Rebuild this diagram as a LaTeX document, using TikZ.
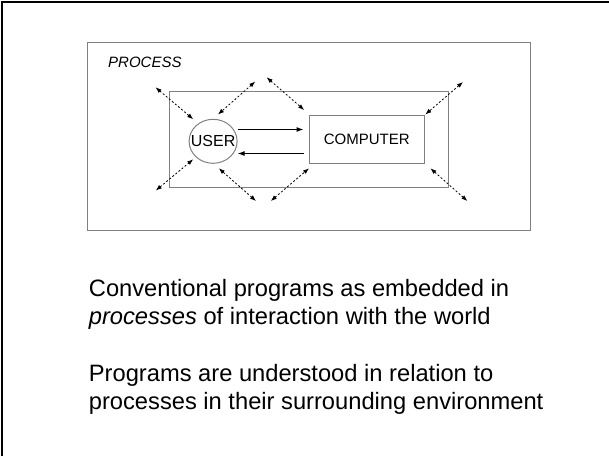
\documentclass[tikz,border=0pt]{standalone}
\usepackage{fontspec}
\setmainfont{Liberation Sans}
\usetikzlibrary{arrows.meta,shapes.geometric}

\begin{document}
\begin{tikzpicture}[x=0.5pt,y=-0.5pt,
    box/.style={draw=gray, line width=0.5pt, inner sep=0pt},
    arrow/.style={-{Latex[length=3.5pt,width=2.5pt]}, line width=0.5pt},
    dotarrow/.style={{Latex[length=3pt,width=2.2pt]}-{Latex[length=3pt,width=2.2pt]}, line width=0.4pt, dash pattern=on 1pt off 1pt},
    small/.style={font=\fontsize{7.5}{9}\selectfont},
    para/.style={anchor=north west, inner sep=0pt, align=left, font=\fontsize{11.85}{14}\selectfont}
  ]
  \useasboundingbox (0,0) rectangle (609,456);

  % slide frame
  \draw[line width=1pt] (1.7,456) -- (1.7,1.7) -- (609,1.7);

  % process box with the system inside
  \node[box, minimum width=221.5pt, minimum height=93.65pt] (process) at (308.8,136.35) {};
  \node[small, font=\fontsize{7.5}{9}\selectfont\itshape, anchor=west, inner sep=0pt] (proclabel) at (107.8,62) {PROCESS};
  \node[box, minimum width=139.7pt, minimum height=48pt] (system) at (309,139) {};

  % user and computer
  \node[box, ellipse, minimum width=24pt, minimum height=22pt,
        label={[font=\fontsize{8}{9}\selectfont]center:USER}] (user) at (213.1,141.3) {};
  \node[box, small, minimum width=57.75pt, minimum height=24.15pt] (computer) at (366.75,139.6) {COMPUTER};

  \draw[arrow, shorten >=2.5pt] ([yshift=5.9pt]user.east) -- ([yshift=5.9pt]user.east -| computer.west);
  \draw[arrow, shorten <=2.5pt] ([yshift=-6.1pt]user.east -| computer.west) -- ([yshift=-6.1pt]user.east);

  % interaction with the world
  \foreach \i/\ox/\oy/\ix/\iy in {1/155.5/87.3/193.2/119.2, 2/255.3/81.5/218/114.5,
      3/266.6/77.3/304.2/110, 4/463/82/425.3/114.5, 5/155.8/190.5/193.2/159.3,
      6/256/201/218.8/168.3, 7/270.8/201/309/168.3, 8/467.4/201/430.4/168.3} {
    \coordinate (out\i) at (\ox,\oy);
    \coordinate (in\i) at (\ix,\iy);
    \draw[dotarrow] (out\i) -- (in\i);
  }

  % text below
  \node[para] (caption) at (88.5,279) {Conventional programs as embedded in\\\textit{processes} of interaction with the world};
  \node[para] (remark) at (88.5,364) {Programs are understood in relation to\\processes in their surrounding environment};
\end{tikzpicture}
\end{document}
